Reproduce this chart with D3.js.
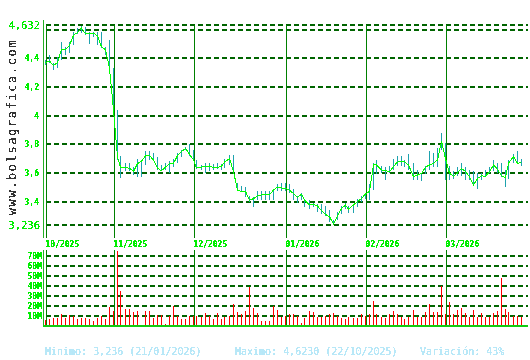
<!DOCTYPE html>
<html>
<head>
<meta charset="utf-8">
<script src="https://cdn.jsdelivr.net/npm/d3@7"></script>
<style>
  body { margin: 0; background: #fff; }
  svg { display: block; shape-rendering: crispEdges; }
  text { font-family: "DejaVu Sans Mono", monospace; }
</style>
</head>
<body>
<div id="container"></div>
<script>
// daily closes, one per trading day from 09/10/2025
var closes = [4.37, 4.38, 4.35, 4.37, 4.46, 4.46, 4.49, 4.56, 4.58, 4.61,
    4.57, 4.57, 4.575, 4.555, 4.48, 4.46, 4.33, 4.04, 3.71, 3.64,
    3.636, 3.632, 3.61, 3.665, 3.68, 3.72, 3.72, 3.69, 3.632, 3.615,
    3.64, 3.665, 3.667, 3.72, 3.75, 3.77, 3.73, 3.69, 3.635, 3.64,
    3.645, 3.648, 3.635, 3.637, 3.645, 3.675, 3.70, 3.61, 3.48, 3.47,
    3.47, 3.41, 3.42, 3.44, 3.446, 3.446, 3.446, 3.48, 3.50, 3.495,
    3.49, 3.48, 3.455, 3.43, 3.45, 3.41, 3.376, 3.38, 3.37, 3.335,
    3.31, 3.294, 3.243, 3.30, 3.35, 3.376, 3.346, 3.376, 3.40, 3.42,
    3.453, 3.47, 3.655, 3.655, 3.62, 3.615, 3.608, 3.645, 3.675, 3.68,
    3.678, 3.655, 3.573, 3.585, 3.595, 3.64, 3.655, 3.667, 3.69, 3.82,
    3.70, 3.597, 3.575, 3.60, 3.63, 3.61, 3.573, 3.515, 3.56, 3.58,
    3.575, 3.608, 3.655, 3.625, 3.58, 3.565, 3.667, 3.713, 3.667, 3.672];

var highs = [4.39, 4.42, 4.37, 4.41, 4.51, 4.48, 4.51, 4.58, 4.61, 4.623,
    4.62, 4.58, 4.58, 4.58, 4.58, 4.48, 4.53, 4.33, 4.04, 3.72,
    3.67, 3.67, 3.64, 3.70, 3.69, 3.75, 3.75, 3.74, 3.71, 3.655,
    3.67, 3.68, 3.697, 3.74, 3.76, 3.78, 3.80, 3.76, 3.69, 3.655,
    3.67, 3.67, 3.66, 3.67, 3.66, 3.70, 3.725, 3.725, 3.53, 3.51,
    3.50, 3.44, 3.43, 3.47, 3.47, 3.47, 3.47, 3.49, 3.52, 3.53,
    3.53, 3.52, 3.49, 3.44, 3.46, 3.42, 3.41, 3.39, 3.38, 3.38,
    3.37, 3.34, 3.27, 3.33, 3.37, 3.39, 3.37, 3.38, 3.42, 3.44,
    3.46, 3.52, 3.67, 3.69, 3.65, 3.64, 3.65, 3.70, 3.72, 3.72,
    3.69, 3.73, 3.67, 3.62, 3.60, 3.65, 3.75, 3.74, 3.77, 3.88,
    3.81, 3.65, 3.61, 3.64, 3.67, 3.64, 3.62, 3.61, 3.60, 3.60,
    3.62, 3.64, 3.69, 3.67, 3.67, 3.62, 3.69, 3.73, 3.75, 3.70];

var lows = [4.35, 4.37, 4.32, 4.33, 4.39, 4.42, 4.44, 4.49, 4.57, 4.575,
    4.56, 4.50, 4.55, 4.49, 4.47, 4.42, 4.32, 4.02, 3.69, 3.565,
    3.61, 3.61, 3.585, 3.57, 3.57, 3.655, 3.69, 3.685, 3.62, 3.61,
    3.62, 3.60, 3.64, 3.67, 3.71, 3.76, 3.72, 3.69, 3.63, 3.62,
    3.60, 3.61, 3.62, 3.625, 3.62, 3.635, 3.655, 3.605, 3.47, 3.465,
    3.43, 3.40, 3.36, 3.41, 3.41, 3.41, 3.41, 3.41, 3.47, 3.47,
    3.47, 3.46, 3.41, 3.39, 3.41, 3.36, 3.35, 3.36, 3.33, 3.31,
    3.30, 3.26, 3.236, 3.27, 3.31, 3.35, 3.32, 3.32, 3.36, 3.40,
    3.42, 3.41, 3.48, 3.59, 3.60, 3.55, 3.60, 3.62, 3.65, 3.65,
    3.64, 3.62, 3.55, 3.55, 3.54, 3.59, 3.62, 3.64, 3.64, 3.76,
    3.55, 3.55, 3.56, 3.58, 3.58, 3.55, 3.55, 3.51, 3.49, 3.55,
    3.57, 3.60, 3.61, 3.60, 3.57, 3.50, 3.56, 3.67, 3.66, 3.65];

// volume in millions
var volumes = [5.3, 6.3, 8, 7.3, 12, 8, 11, 10, 6, 7.3,
    7.3, 6, 5, 8, 10, 7, 18.6, 15, 75, 35,
    16.3, 16.3, 13.6, 14.6, 1, 14.3, 14.3, 8, 11, 11,
    1.3, 10, 20, 10, 7, 6, 10, 10, 10, 9,
    12.6, 10, 7, 12.6, 6, 8.6, 9.6, 21.3, 13.3, 11.3,
    14.3, 38.6, 17.3, 12.3, 4.3, 4.3, 4.3, 19.3, 15.3, 8.6,
    10, 11.3, 11.3, 10, 2.6, 8, 14.3, 13.3, 9, 9,
    10, 11.3, 12.3, 10, 8, 6, 8.3, 8, 8, 11.3,
    10, 11.3, 24.3, 12, 9, 8, 11.3, 14.3, 12, 9,
    6, 9, 15.3, 9, 9, 13.3, 22, 13.3, 13.3, 39.3,
    12, 23.3, 11.3, 15.3, 17.3, 12.3, 9, 15.3, 9, 12.3,
    9, 8.6, 12.3, 14.3, 47.3, 16.3, 13.3, 10, 10, 8.3];

// first trading day of each month (index into the series)
var monthStarts = [0, 17, 37, 60, 80, 100];
var monthLabels = ["10/2025", "11/2025", "12/2025", "01/2026", "02/2026", "03/2026"];

var priceMin = 3.236;
var priceMax = 4.632;
var priceTicks = [4.6, 4.4, 4.2, 4.0, 3.8, 3.6, 3.4];
var volumeTicks = [10, 20, 30, 40, 50, 60, 70];

var footerTexts = ["Minimo: 3,236 (21/01/2026)", "Maximo: 4,6230 (22/10/2025)", "Variación: 43%"];
var siteName = "www.bolsagrafica.com";

var width = 530, height = 360;
var gridColor = "#006400";
var axisColor = "#22b022";
var labelColor = "#00ee00";

var svg = d3.select("#container").append("svg")
    .attr("width", width)
    .attr("height", height);

// threshold filter: pixel-sharp text like the original bitmap fonts
var flt = svg.append("defs").append("filter")
    .attr("id", "crisp")
    .attr("x", "-5%").attr("y", "-20%")
    .attr("width", "110%").attr("height", "140%");
flt.append("feComponentTransfer")
    .append("feFuncA")
    .attr("type", "discrete")
    .attr("tableValues", "0 1 1");

var locale = d3.formatLocale({decimal: ",", thousands: ".", grouping: [3], currency: ["", "€"]});
var fmt = locale.format("~g");
var fmt3 = locale.format(".3f");

var x = d3.scaleLinear().domain([0, closes.length - 1]).range([45.5, 521.5]);
var y = d3.scaleLinear().domain([priceMin, priceMax]).range([225, 25]);
var yv = d3.scaleLinear().domain([0, 70]).range([325.5, 255.5]);

var gridRight = 528;

var labels = svg.append("g").attr("filter", "url(#crisp)");

// ---- watermark
labels.append("text")
    .attr("transform", "translate(16,127) rotate(-90)")
    .attr("text-anchor", "middle")
    .attr("font-size", 12)
    .attr("letter-spacing", 1.6)
    .attr("fill", "#333")
    .text(siteName);

// ---- price panel
var price = svg.append("g");

price.selectAll("line.grid")
    .data([priceMax].concat(priceTicks).concat([priceMin]))
    .enter().append("line")
    .attr("x1", 46).attr("x2", gridRight)
    .attr("y1", function(d){ return Math.round(y(d)); })
    .attr("y2", function(d){ return Math.round(y(d)); })
    .attr("stroke", gridColor)
    .attr("stroke-width", 2)
    .attr("stroke-dasharray", "5,3");

labels.selectAll("text.tick")
    .data(priceTicks.filter(function(d){ return d < 4.55; }))
    .enter().append("text")
    .attr("x", 39)
    .attr("y", function(d){ return y(d) + 3; })
    .attr("text-anchor", "end")
    .attr("font-size", 8)
    .attr("font-weight", "bold")
    .attr("fill", labelColor)
    .text(function(d){ return fmt(d); });

labels.selectAll("text.big")
    .data([priceMax, priceMin])
    .enter().append("text")
    .attr("x", 40)
    .attr("y", function(d){ return y(d) + 4; })
    .attr("text-anchor", "end")
    .attr("font-size", 10.5)
    .attr("fill", labelColor)
    .text(function(d){ return fmt3(d); });

// month separators
price.selectAll("line.month")
    .data(monthStarts)
    .enter().append("line")
    .attr("x1", function(d){ return Math.round(x(d)) + 0.5; })
    .attr("x2", function(d){ return Math.round(x(d)) + 0.5; })
    .attr("y1", 25).attr("y2", 238)
    .attr("stroke", "#008000")
    .attr("stroke-width", 1);

price.append("line")
    .attr("x1", 43.5).attr("x2", 43.5)
    .attr("y1", 20).attr("y2", 238)
    .attr("stroke", axisColor)
    .attr("stroke-width", 1);

labels.selectAll("text.month")
    .data(monthStarts)
    .enter().append("text")
    .attr("x", function(d){ return x(d); })
    .attr("y", 247)
    .attr("font-size", 8)
    .attr("font-weight", "bold")
    .attr("fill", labelColor)
    .text(function(d, i){ return monthLabels[i]; });

// high-low bars
price.selectAll("rect.hl")
    .data(closes)
    .enter().append("rect")
    .attr("x", function(d, i){ return Math.round(x(i)) - 1; })
    .attr("y", function(d, i){ return y(highs[i]); })
    .attr("width", 1)
    .attr("height", function(d, i){ return Math.max(1, y(lows[i]) - y(highs[i])); })
    .attr("fill", "#1ea2ae");

// close line
var line = d3.line()
    .x(function(d, i){ return Math.round(x(i)) - 0.5; })
    .y(function(d){ return y(d); });

price.append("path")
    .datum(closes)
    .attr("d", line)
    .attr("fill", "none")
    .attr("stroke", "#00ff00")
    .attr("stroke-width", 1);

// ---- volume panel
var vol = svg.append("g");

vol.selectAll("line.grid")
    .data(volumeTicks)
    .enter().append("line")
    .attr("x1", 46).attr("x2", gridRight)
    .attr("y1", function(d){ return Math.round(yv(d)); })
    .attr("y2", function(d){ return Math.round(yv(d)); })
    .attr("stroke", gridColor)
    .attr("stroke-width", 2)
    .attr("stroke-dasharray", "5,3");

labels.selectAll("text.vtick")
    .data(volumeTicks)
    .enter().append("text")
    .attr("x", 42)
    .attr("y", function(d){ return yv(d) + 3; })
    .attr("text-anchor", "end")
    .attr("font-size", 8)
    .attr("font-weight", "bold")
    .attr("fill", labelColor)
    .text(function(d){ return d + "M"; });

vol.selectAll("line.month")
    .data(monthStarts)
    .enter().append("line")
    .attr("x1", function(d){ return Math.round(x(d)) + 0.5; })
    .attr("x2", function(d){ return Math.round(x(d)) + 0.5; })
    .attr("y1", 250).attr("y2", 326)
    .attr("stroke", "#008000")
    .attr("stroke-width", 1);

vol.selectAll("rect.vol")
    .data(volumes)
    .enter().append("rect")
    .attr("x", function(d, i){ return Math.round(x(i)) - 1; })
    .attr("y", function(d){ return Math.round(yv(d)); })
    .attr("width", 1)
    .attr("height", function(d){ return Math.round(yv(0)) - Math.round(yv(d)); })
    .attr("fill", "#ff0000");

vol.append("line")
    .attr("x1", 43.5).attr("x2", 43.5)
    .attr("y1", 250).attr("y2", 327)
    .attr("stroke", axisColor)
    .attr("stroke-width", 1);

vol.append("line")
    .attr("x1", 43).attr("x2", gridRight)
    .attr("y1", 326).attr("y2", 326)
    .attr("stroke", "#11cc11")
    .attr("stroke-width", 2);

// ---- footer
var footerX = [45, 235, 420];
labels.selectAll("text.footer")
    .data(footerTexts)
    .enter().append("text")
    .attr("x", function(d, i){ return footerX[i]; })
    .attr("y", 355)
    .attr("font-size", 10)
    .attr("fill", "#b8e8f8")
    .text(function(d){ return d; });
</script>
</body>
</html>
